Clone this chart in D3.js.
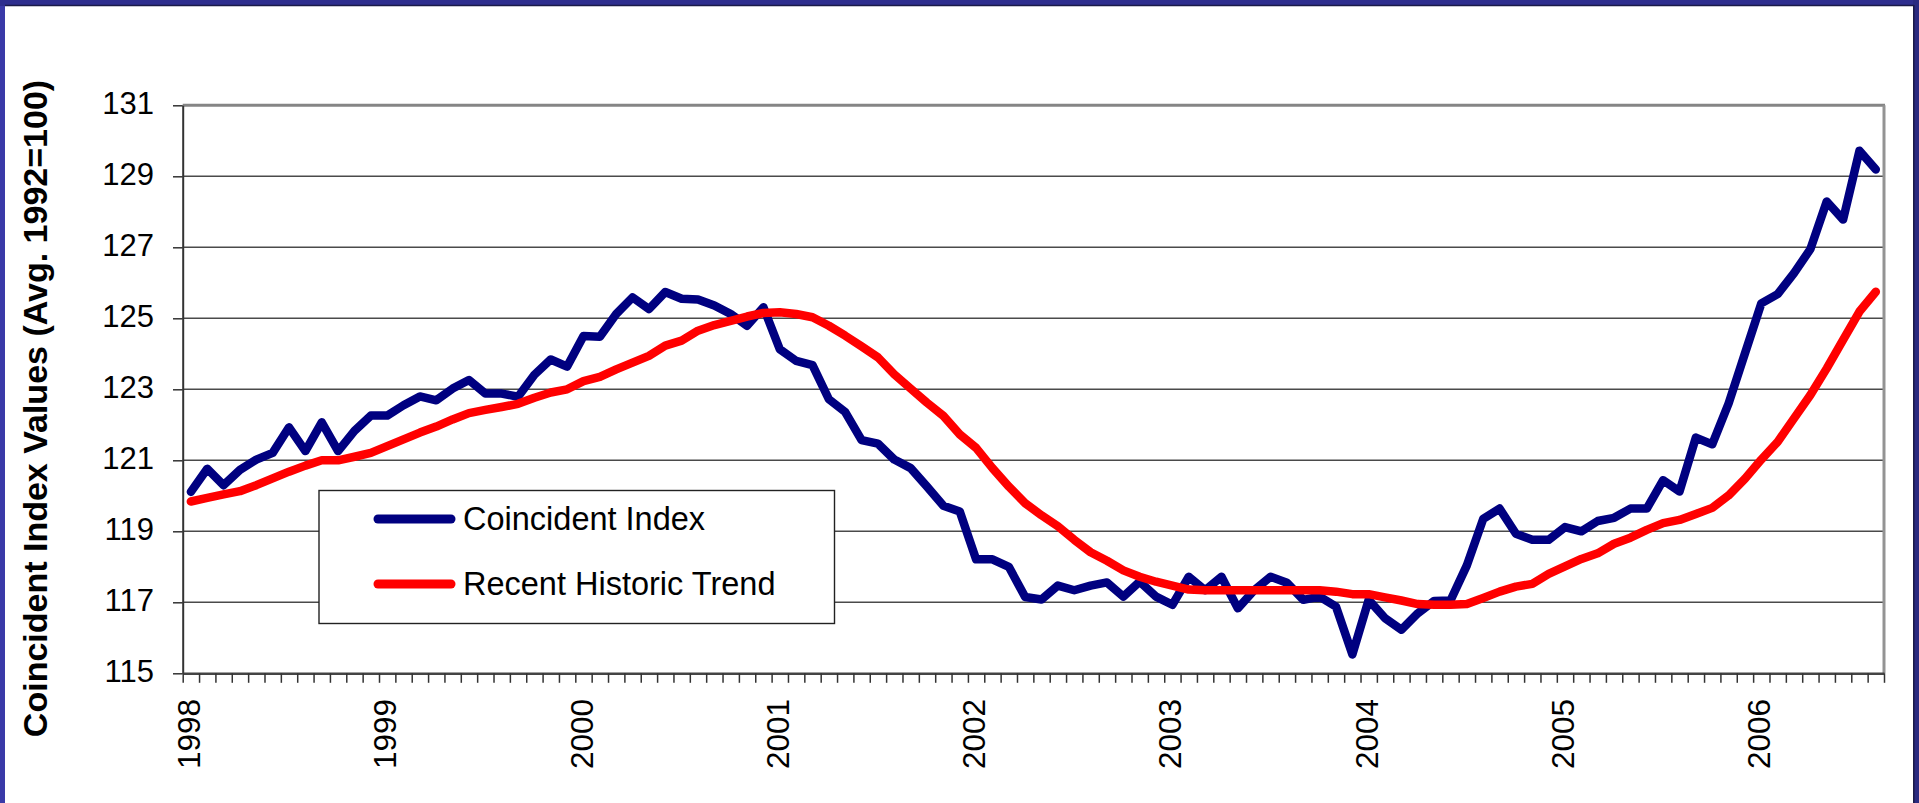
<!DOCTYPE html>
<html>
<head>
<meta charset="utf-8">
<script src="https://cdn.jsdelivr.net/npm/d3@7"></script>
<style>
  html, body { margin: 0; padding: 0; overflow: hidden; background: #3636a2; }
  svg { display: block; }
  text { font-family: "Liberation Sans", Arial, "DejaVu Sans", sans-serif; fill: #000; }
</style>
</head>
<body>
<svg id="chart" width="1919" height="803"></svg>
<script>
// ---------------- data ----------------
const years = [1998, 1999, 2000, 2001, 2002, 2003, 2004, 2005, 2006];
const monthNames = ["Jan","Feb","Mar","Apr","May","Jun","Jul","Aug","Sep","Oct","Nov","Dec"];
const lastYearMonths = 8; // data runs Jan 1998 - Aug 2006

const yTicks = [115, 117, 119, 121, 123, 125, 127, 129, 131];
const xTickLabels = ["1998","1999","2000","2001","2002","2003","2004","2005","2006"];

const coincidentIndex = [
  120.11,120.76,120.30,120.73,121.02,121.21,121.93,121.26,122.07,121.26,121.83,122.26,
  122.26,122.55,122.80,122.69,123.02,123.26,122.88,122.88,122.79,123.41,123.84,123.64,
  124.50,124.48,125.12,125.59,125.26,125.74,125.55,125.53,125.36,125.12,124.79,125.31,
  124.13,123.80,123.68,122.72,122.36,121.57,121.47,121.02,120.78,120.26,119.72,119.56,
  118.21,118.21,118.00,117.15,117.08,117.47,117.34,117.47,117.56,117.16,117.58,117.16,
  116.93,117.72,117.34,117.72,116.83,117.34,117.72,117.55,117.07,117.16,116.88,115.53,
  117.07,116.55,116.23,116.69,117.04,117.05,118.04,119.35,119.64,118.93,118.76,118.76,
  119.12,119.00,119.29,119.38,119.64,119.64,120.44,120.12,121.64,121.45,122.60,124.01,
  125.42,125.68,126.27,126.95,128.29,127.78,129.72,129.19
];

const historicTrend = [
  119.84,119.94,120.04,120.13,120.30,120.49,120.68,120.85,121.00,121.00,121.10,121.21,
  121.40,121.59,121.78,121.95,122.15,122.33,122.42,122.50,122.59,122.76,122.91,123.00,
  123.23,123.35,123.56,123.75,123.94,124.23,124.37,124.65,124.81,124.93,125.05,125.15,
  125.17,125.12,125.03,124.79,124.51,124.21,123.90,123.42,123.02,122.62,122.25,121.73,
  121.35,120.78,120.26,119.79,119.45,119.14,118.76,118.41,118.17,117.90,117.72,117.58,
  117.47,117.36,117.34,117.34,117.34,117.34,117.34,117.34,117.34,117.34,117.30,117.23,
  117.23,117.14,117.05,116.95,116.93,116.93,116.95,117.12,117.30,117.44,117.52,117.80,
  118.01,118.22,118.38,118.65,118.82,119.04,119.23,119.32,119.49,119.66,120.01,120.48,
  121.02,121.52,122.18,122.84,123.59,124.39,125.19,125.75
];

const seriesNames = ["Coincident Index", "Recent Historic Trend"];
const seriesColors = ["#000080", "#ff0000"];
const yTitle = "Coincident Index Values (Avg. 1992=100)";

// categories (one per month)
const categories = [];
years.forEach((yr, yi) => {
  const n = yi === years.length - 1 ? lastYearMonths : 12;
  for (let m = 0; m < n; m++) categories.push(monthNames[m] + " " + yr);
});

// ---------------- layout ----------------
const W = 1919, H = 803;
const plot = { left: 182.7, right: 1884, top: 105.3, bottom: 673.3 };

const svg = d3.select("#chart");

// frame
svg.append("rect").attr("x", 0).attr("y", 0).attr("width", W).attr("height", H).attr("fill", "#3a3aa8");
svg.append("rect").attr("x", 0).attr("y", 0).attr("width", W).attr("height", 6).attr("fill", "#2e2e8e");
svg.append("rect").attr("x", 1913).attr("y", 0).attr("width", 6).attr("height", H).attr("fill", "#2a2a80");
svg.append("rect").attr("x", 5).attr("y", 6).attr("width", 1908).attr("height", H).attr("fill", "#ffffff");
svg.append("line").attr("x1", 5).attr("x2", 1914).attr("y1", 5.5).attr("y2", 5.5).attr("stroke", "#1a1a48").attr("stroke-width", 1.5);
svg.append("line").attr("x1", 1913.8).attr("x2", 1913.8).attr("y1", 5).attr("y2", H).attr("stroke", "#1a1a48").attr("stroke-width", 1.6);

// scales
const x = d3.scaleBand().domain(categories).range([plot.left, plot.right]).padding(0);
const xEdge = d3.scaleLinear().domain([0, categories.length]).range([plot.left, plot.right]);
const y = d3.scaleLinear().domain([115, 131]).range([plot.bottom, plot.top]);
const cx = d => x(d) + x.bandwidth() / 2;

// gridlines
svg.append("g").selectAll("line")
  .data(yTicks.filter(t => t > 115 && t < 131))
  .join("line")
  .attr("x1", plot.left).attr("x2", plot.right)
  .attr("y1", d => y(d)).attr("y2", d => y(d))
  .attr("stroke", "#4a4a4a").attr("stroke-width", 1.4);

// plot border (top and right)
svg.append("line").attr("x1", plot.left).attr("x2", plot.right + 1)
  .attr("y1", y(131)).attr("y2", y(131)).attr("stroke", "#858585").attr("stroke-width", 3);
svg.append("line").attr("x1", plot.right).attr("x2", plot.right)
  .attr("y1", y(131)).attr("y2", plot.bottom).attr("stroke", "#939393").attr("stroke-width", 3);

// y axis
const yAxis = svg.append("g")
  .attr("transform", `translate(${plot.left},0)`)
  .call(d3.axisLeft(y).tickValues(yTicks).tickSize(9.7).tickPadding(19).tickSizeOuter(0));
yAxis.select(".domain").attr("stroke", "#333").attr("stroke-width", 2);
yAxis.selectAll(".tick line").attr("stroke", "#333").attr("stroke-width", 1.5);
yAxis.selectAll(".tick text")
  .attr("font-size", 31).attr("font-family", "'Liberation Sans', Arial, sans-serif")
  .attr("fill", "#000").attr("dy", "0.26em");

// x axis (tick marks at category boundaries)
const xAxis = svg.append("g")
  .attr("transform", `translate(0,${plot.bottom})`)
  .call(d3.axisBottom(xEdge).tickValues(d3.range(0, categories.length + 1)).tickSize(9.5).tickFormat("").tickSizeOuter(0));
xAxis.select(".domain").attr("stroke", "#444").attr("stroke-width", 2.5);
xAxis.selectAll(".tick line").attr("stroke", "#333").attr("stroke-width", 1.5);

// year labels (rotated)
const labelCats = xTickLabels.map(lbl => "Jan " + lbl);
svg.append("g").selectAll("text")
  .data(xTickLabels)
  .join("text")
  .attr("transform", (d, i) => `translate(${cx(labelCats[i]) - 2},699) rotate(-90)`)
  .attr("text-anchor", "end")
  .attr("dy", "0.35em")
  .attr("font-size", 31.5)
  .text(d => d);

// y title
svg.append("text")
  .attr("transform", "translate(35,408.5) rotate(-90)")
  .attr("text-anchor", "middle")
  .attr("dy", "0.35em")
  .attr("font-size", 34)
  .attr("font-weight", "bold")
  .text(yTitle);

// series lines
const line = d3.line()
  .x((d, i) => cx(categories[i]))
  .y(d => y(d));

[coincidentIndex, historicTrend].forEach((s, k) => {
  svg.append("path")
    .datum(s)
    .attr("d", line)
    .attr("fill", "none")
    .attr("stroke", seriesColors[k])
    .attr("stroke-width", 8.5)
    .attr("stroke-linejoin", "round")
    .attr("stroke-linecap", "round");
});

// legend
const lg = svg.append("g");
lg.append("rect").attr("x", 319).attr("y", 490.5).attr("width", 515.5).attr("height", 133)
  .attr("fill", "#fff").attr("stroke", "#222").attr("stroke-width", 1.4);
const legendRows = [519, 584];
seriesNames.forEach((name, k) => {
  lg.append("line").attr("x1", 378).attr("x2", 451)
    .attr("y1", legendRows[k]).attr("y2", legendRows[k])
    .attr("stroke", seriesColors[k]).attr("stroke-width", 9).attr("stroke-linecap", "round");
  lg.append("text").attr("x", 463).attr("y", legendRows[k]).attr("dy", "0.35em")
    .attr("font-size", 32.5).text(name);
});
</script>
</body>
</html>
